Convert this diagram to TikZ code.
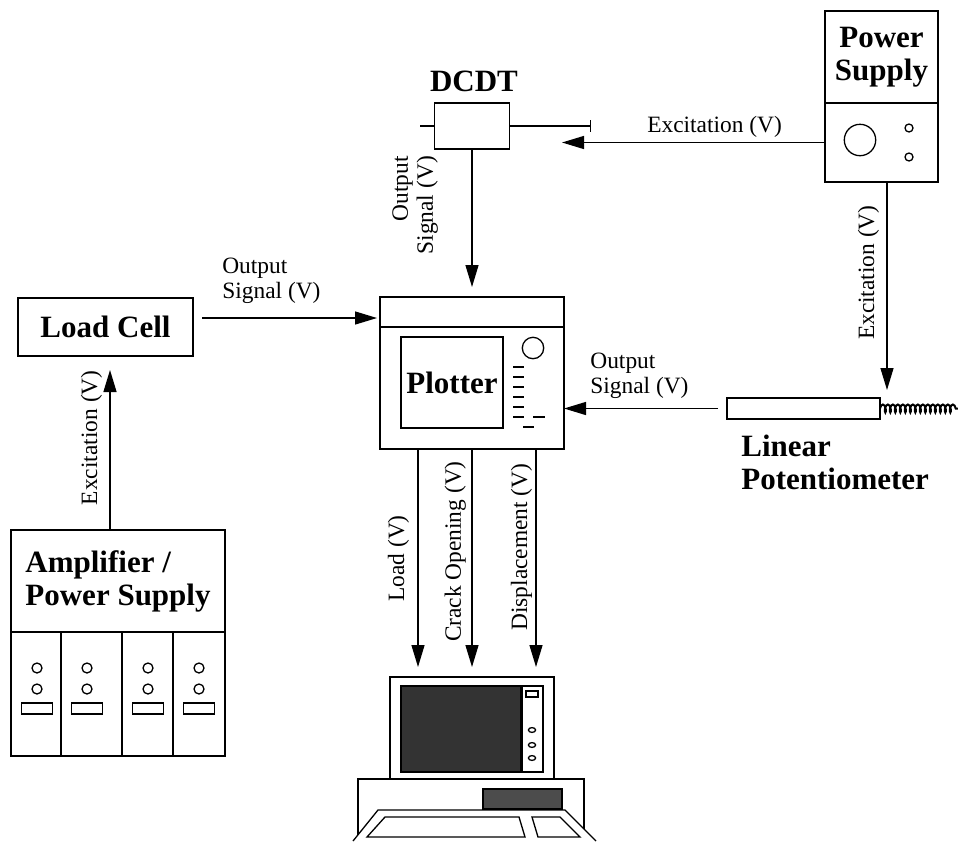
\documentclass[tikz,border=0pt]{standalone}
\usepackage{fontspec}
\setmainfont{Liberation Serif}
\usetikzlibrary{arrows.meta,positioning,decorations.pathmorphing}

\begin{document}
\begin{tikzpicture}[x=0.5pt,y=-0.5pt,line width=0.65pt,
        >={Triangle[length=11pt,width=6.5pt]},
        box/.style={draw,rectangle,inner sep=0pt,outer sep=0pt},
        title/.style={font=\fontsize{15.5}{16.5}\selectfont\bfseries},
        lbl/.style={font=\fontsize{11.7}{12.5}\selectfont,inner sep=1pt},
        side/.style={lbl,rotate=90,anchor=south,outer sep=#1},
        side/.default=3pt,
        sig/.style={->}]

        \useasboundingbox (0,0) rectangle (958,841);

        % power supply
        \node[box,title,align=center,minimum width=56.5pt,minimum height=46pt] (psutop) at (881.5,57) {Power\\Supply};
        \node[box,minimum width=56.5pt,minimum height=39.5pt,below=0pt of psutop] (psubot) {};
        \draw (860,140) circle (7.85pt);
        \draw (909,128) circle (2pt) (909,157) circle (2pt);

        % dcdt
        \node[box,minimum width=37.5pt,minimum height=23pt] (dcdt) at (472,126) {};
        \node[title] (dcdtname) at (474,81) {DCDT};
        \draw (dcdt.west) -- ++(-15,0);
        \draw (dcdt.east) -- ++(81,0) coordinate (tail);
        \draw ([yshift=3pt]tail) -- ([yshift=-3pt]tail);
        \coordinate (dcdtin) at (562,142.5);

        % plotter
        \node[box,minimum width=92pt,minimum height=76pt] (plotter) at (472,373) {};
        \draw ([yshift=-15pt]plotter.north west) -- ([yshift=-15pt]plotter.north east);
        \node[box,title,minimum width=51pt,minimum height=45.5pt] (screen) at (452,382.5) {Plotter};
        \draw (533,348) circle (5.35pt);
        \foreach \y in {367,377,...,417}
            \draw (513,\y) -- (524,\y);
        \draw (533,417) -- (545,417) (523,427) -- (534,427);

        % load cell
        \node[box,title,minimum width=87.5pt,minimum height=29pt] (lcell) at (105.5,327) {Load Cell};
        \coordinate (lcout) at ([xshift=4.5pt,yshift=4.5pt]lcell.east);

        % amplifier rack
        \node[box,title,align=left,minimum width=107pt,minimum height=51pt] (amptop) at (118,581) {Amplifier /\\Power Supply};
        \node[box,minimum width=107pt,minimum height=62pt,below=0pt of amptop] (ampbot) {};
        \foreach \x in {61,122,173}
            \draw (\x,632) -- (\x,756);
        \foreach \x in {37,87,148,199} {
            \draw (\x,668) circle (2.5pt) (\x,689) circle (2.5pt);
            \draw (\x-15.5,703) rectangle (\x+15.5,714);
        }
        \coordinate (ampx) at ([xshift=-4pt]amptop.north);

        % linear potentiometer
        \node[box,minimum width=76.5pt,minimum height=10.5pt] (pot) at (803.5,408.5) {};
        \coordinate (springend) at (958,408.5);
        \draw[line width=1pt,decorate,decoration={coil,aspect=0.4,segment length=2.5pt,amplitude=2pt}] (pot.east) -- (springend);
        \node[title,align=left,anchor=north west] (potname) at (734,428) {Linear\\Potentiometer};
        \coordinate (psux) at ([xshift=2.75pt]psubot.south);

        % computer
        \node[box,minimum width=82pt,minimum height=51pt] (monitor) at (472,728) {};
        \draw[fill=black!80] (401,686) rectangle (521,772);
        \draw (522,686) rectangle (543,772) (526,691) rectangle (538,697);
        \foreach \y in {730,745,758}
            \draw (532,\y) ellipse (1.8pt and 1.2pt);
        \draw (358,841) -- (358,779) -- (584,779) -- (584,841);
        \draw[fill=black!70] (483,789) rectangle (562,809);
        \fill[white] (378,810) -- (565,810) -- (596,841) -- (353,841) -- cycle;
        \draw (353,841) -- (378,810) -- (565,810) -- (596,841);
        \draw (385,817) -- (519,817) -- (525,837) -- (367,837) -- cycle;
        \draw (532,817) -- (560,817) -- (580,837) -- (538,837) -- cycle;

        % signals
        \draw[sig] (psubot.west) -- node[lbl,above=1pt,pos=0.42] {Excitation (V)} (dcdtin);
        \draw[sig,shorten >=5pt] (dcdt.south) -- node[side=16pt,align=right,pos=0.38] {Output\\Signal (V)} (plotter.north);
        \draw[sig,shorten >=1.5pt] (lcout) -- node[lbl,above=6pt,align=left,pos=0.39] {Output\\Signal (V)} (lcout -| plotter.west);
        \draw[sig,shorten >=7pt] (ampx) -- node[side,pos=0.53] {Excitation (V)} (ampx |- lcell.south);
        \draw[sig,shorten >=4pt] (psux) -- node[side,pos=0.42] {Excitation (V)} (psux |- pot.north);
        \draw[sig] ([xshift=-4.5pt]pot.west) -- node[lbl,above=3.5pt,align=left,pos=0.51] {Output\\Signal (V)} (pot.west -| plotter.east);
        \foreach \dx/\name/\p/\gap in {-27/{Load (V)}/0.48/3.5pt, 0/{Crack Opening (V)}/0.45/2pt, 32/{Displacement (V)}/0.43/1pt}
            \draw[sig,shorten >=5pt] ([xshift=\dx pt]plotter.south) -- node[side=\gap,pos=\p] {\name} ([xshift=\dx pt]monitor.north);
\end{tikzpicture}
\end{document}
